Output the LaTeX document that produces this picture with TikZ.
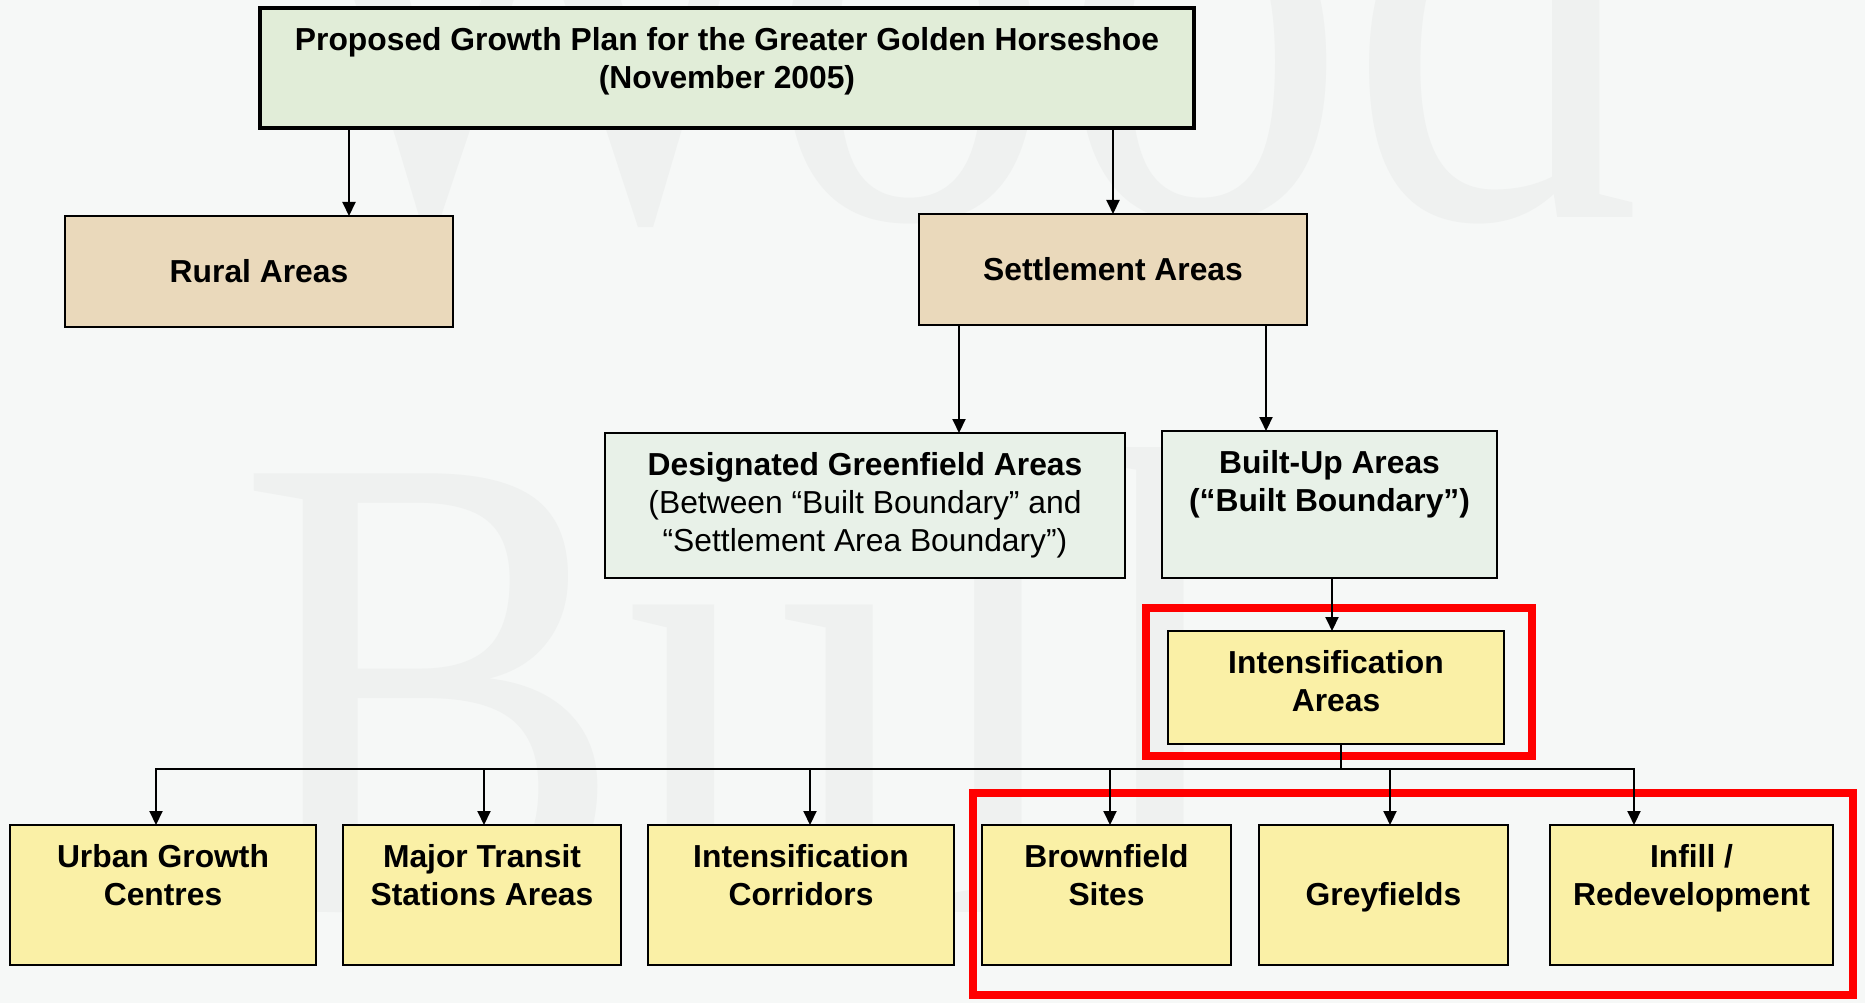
\documentclass[tikz,border=0pt]{standalone}
\usepackage{fontspec}
\usepackage{graphicx}
\setmainfont{Liberation Sans}
\newfontfamily\wmfont{Liberation Serif}
\usetikzlibrary{arrows.meta}

\definecolor{pagebg}{HTML}{F6F8F7}
\definecolor{wmark}{HTML}{EFF1F0}
\definecolor{topgreen}{HTML}{E1EDD8}
\definecolor{tanfill}{HTML}{EAD9BB}
\definecolor{palegreen}{HTML}{E8F1E8}
\definecolor{yellowfill}{HTML}{FAF0A6}
\definecolor{hilite}{HTML}{FF0000}

\begin{document}
\begin{tikzpicture}[x=1pt,y=-1pt,
  box/.style={draw=black, line width=2.2pt, rectangle, inner sep=0pt, outer sep=0pt},
  lbl/.style={inner sep=0pt, align=center, font=\fontsize{31.8}{38}\selectfont\bfseries},
  lblreg/.style={inner sep=0pt, align=center, font=\fontsize{31.8}{38}\selectfont},
  conn/.style={line width=2pt, draw=black},
  arr/.style={conn, -{Triangle[length=14pt,width=13pt]}},
  frame/.style={draw=hilite, line width=8pt},
  wm/.style={inner sep=0pt, anchor=base west, text=wmark}
]
\useasboundingbox (0,0) rectangle (1865,1003);
\clip (0,0) rectangle (1865,1003);
\fill[pagebg] (0,0) rectangle (1865,1003);

% faint logo lettering behind the chart
\node[wm] (logoA) at (262,218) {\wmfont\fontsize{670}{670}\selectfont\scalebox{0.87}[1]{Wood}};
\node[wm] (logoB) at (237,912) {\wmfont\fontsize{670}{670}\selectfont\scalebox{0.87}[1]{Bull}};

% highlight frames
\draw[frame] (1146,608) rectangle (1532,756);
\draw[frame] (973,793) rectangle (1853,995);

% level 0
\node[box, fill=topgreen, line width=4.5pt, minimum width=934pt, minimum height=120pt] (top) at (727,68) {};
\node[lbl, anchor=north] (topT) at ([yshift=-19pt]top.north)
  {Proposed Growth Plan for the Greater Golden Horseshoe\\(November 2005)};

% level 1
\node[box, fill=tanfill, minimum width=388pt, minimum height=111pt, lbl] (rural) at (259,271.5) {Rural Areas};
\node[box, fill=tanfill, minimum width=388pt, minimum height=111pt, lbl] (settle) at (1113,269.5) {Settlement Areas};

% level 2
\node[box, fill=palegreen, minimum width=520pt, minimum height=145pt] (green) at (865,505.5) {};
\node[lblreg, anchor=north] (greenT) at ([yshift=-19pt]green.north)
  {\textbf{Designated Greenfield Areas}\\(Between “Built Boundary” and\\“Settlement Area Boundary”)};
\node[box, fill=palegreen, minimum width=335pt, minimum height=147pt] (built) at (1329.5,504.5) {};
\node[lbl, anchor=north] (builtT) at ([yshift=-19pt]built.north)
  {Built-Up Areas\\(“Built Boundary”)};

% level 3
\node[box, fill=yellowfill, minimum width=336pt, minimum height=113pt] (intens) at (1336,687.5) {};
\node[lbl, anchor=north] (intensT) at ([yshift=-19pt]intens.north) {Intensification\\Areas};

% level 4
\foreach \name/\cx/\w in {ugc/163/306, mtsa/482/278, corr/801/306, brown/1106.5/249, grey/1383.5/249, infill/1691.5/283}
  \node[box, fill=yellowfill, minimum width=\w pt, minimum height=140pt] (\name) at (\cx,895) {};
\node[lbl, anchor=north] (ugcT) at ([yshift=-19pt]ugc.north) {Urban Growth\\Centres};
\node[lbl, anchor=north] (mtsaT) at ([yshift=-19pt]mtsa.north) {Major Transit\\Stations Areas};
\node[lbl, anchor=north] (corrT) at ([yshift=-19pt]corr.north) {Intensification\\Corridors};
\node[lbl, anchor=north] (brownT) at ([yshift=-19pt]brown.north) {Brownfield\\Sites};
\node[lbl, anchor=north] (greyT) at ([yshift=-57pt]grey.north) {Greyfields};
\node[lbl, anchor=north] (infillT) at ([yshift=-19pt]infill.north) {Infill /\\Redevelopment};

% connectors
\draw[arr] ([xshift=90pt]rural.north |- top.south) -- ([xshift=90pt]rural.north);
\draw[arr] (settle.north |- top.south) -- (settle.north);
\draw[arr] ([xshift=94pt]green.north |- settle.south) -- ([xshift=94pt]green.north);
\draw[arr] ([xshift=-63.5pt]built.north |- settle.south) -- ([xshift=-63.5pt]built.north);
\draw[arr] ([xshift=-4pt]intens.north |- built.south) -- ([xshift=-4pt]intens.north);

\coordinate (busY) at (0,769);
\draw[conn] ([xshift=5pt]intens.south) -- ([xshift=5pt]intens.south |- busY);
\draw[conn, line cap=rect] ([xshift=-7pt]ugc.north |- busY) -- ([xshift=-57.5pt]infill.north |- busY);
\foreach \name/\dx in {ugc/-7, mtsa/2, corr/9, brown/3.5, grey/6.5, infill/-57.5}
  \draw[arr] ([xshift=\dx pt]\name.north |- busY) -- ([xshift=\dx pt]\name.north);
\end{tikzpicture}
\end{document}
